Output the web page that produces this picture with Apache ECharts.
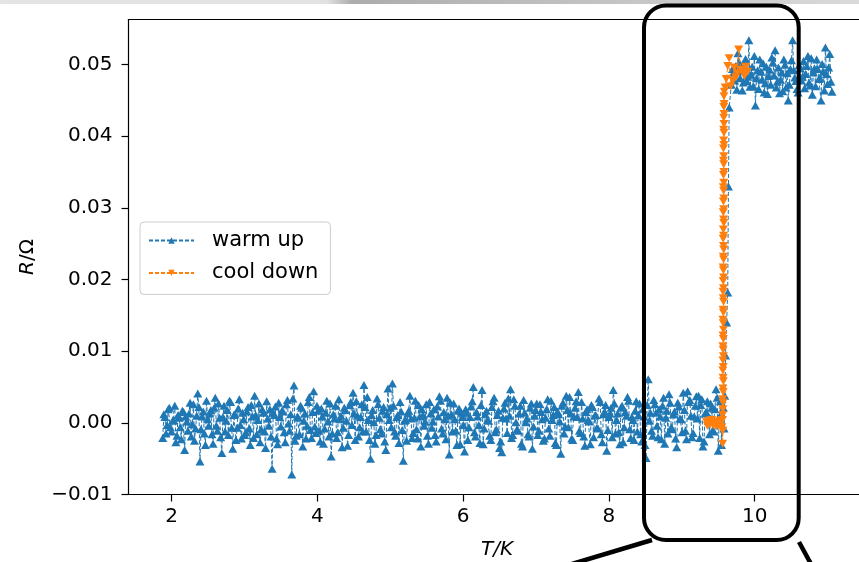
<!DOCTYPE html>
<html><head><meta charset="utf-8">
<script src="https://cdn.jsdelivr.net/npm/echarts@6/dist/echarts.min.js"></script>
<style>html,body{margin:0;padding:0;background:#fff}#c{width:859px;height:562px}</style>
</head><body><div id="c"></div>
<script>
// ---- warm up: superconducting (low) state, T in K, R in Ohm (sweep points) ----
const warmLowT = [
 1.88,1.91,1.94,1.97,2.00,2.03,2.06,2.09,2.12,2.15,2.18,2.21,2.24,2.27,2.30,2.33,2.36,2.39,2.42,2.45,2.48,2.51,2.54,2.57,2.60,2.63,2.66,2.69,2.72,2.75,2.78,2.81,2.84,2.87,2.90,2.93,2.96,2.99,
 3.02,3.05,3.08,3.11,3.14,3.17,3.20,3.23,3.26,3.29,3.32,3.35,3.38,3.41,3.44,3.47,3.50,3.53,3.56,3.59,3.62,3.65,3.68,3.71,3.74,3.77,3.80,3.83,3.86,3.89,3.92,3.95,3.98,
 4.01,4.04,4.07,4.10,4.13,4.16,4.19,4.22,4.25,4.28,4.31,4.34,4.37,4.40,4.43,4.46,4.49,4.52,4.55,4.58,4.61,4.64,4.67,4.70,4.73,4.76,4.79,4.82,4.85,4.88,4.91,4.94,4.97,
 5.00,5.03,5.06,5.09,5.12,5.15,5.18,5.21,5.24,5.27,5.30,5.33,5.36,5.39,5.42,5.45,5.48,5.51,5.54,5.57,5.60,5.63,5.66,5.69,5.72,5.75,5.78,5.81,5.84,5.87,5.90,5.93,5.96,5.99,
 6.02,6.05,6.08,6.11,6.14,6.17,6.20,6.23,6.26,6.29,6.32,6.35,6.38,6.41,6.44,6.47,6.50,6.53,6.56,6.59,6.62,6.65,6.68,6.71,6.74,6.77,6.80,6.83,6.86,6.89,6.92,6.95,6.98,
 7.01,7.04,7.07,7.10,7.13,7.16,7.19,7.22,7.25,7.28,7.31,7.34,7.37,7.40,7.43,7.46,7.49,7.52,7.55,7.58,7.61,7.64,7.67,7.70,7.73,7.76,7.79,7.82,7.85,7.88,7.91,7.94,7.97,
 8.00,8.03,8.06,8.09,8.12,8.15,8.18,8.21,8.24,8.27,8.30,8.33,8.36,8.39,8.42,8.45,8.48,8.51,8.54,8.57,8.60,8.63,8.66,8.69,8.72,8.75,8.78,8.81,8.84,8.87,8.90,8.93,8.96,8.99,
 9.02,9.05,9.08,9.11,9.14,9.17,9.20,9.23,9.26,9.29,9.32,9.35,9.38,9.41,9.44,9.47,9.50,9.53,9.55
];
const warmLowR = [
 -0.0021,0.0008,-0.0003,0.0021,-0.0012,0.0004,-0.0027,0.0011,-0.0006,0.0017,-0.0038,0.0002,0.0013,-0.0019,0.0026,-0.0008,0.0041,-0.0054,0.0009,-0.0015,0.0031,-0.0004,0.0018,-0.0029,0.0035,-0.0011,0.0007,-0.0042,0.0024,0.0003,-0.0017,0.0029,-0.0036,0.0012,-0.0007,0.0033,-0.0022,0.0005,
 -0.0013,0.0022,-0.0031,0.0009,0.0038,-0.0016,0.0027,-0.0009,0.0014,-0.0035,0.0006,0.0019,-0.0064,0.0011,-0.0022,0.0028,-0.0005,0.0016,-0.0027,0.0032,-0.0011,-0.0072,0.0052,-0.0018,0.0007,0.0024,-0.0033,0.0013,-0.0004,0.0036,-0.0021,0.0044,-0.0014,
 0.0017,-0.0026,0.0009,-0.0008,0.0031,-0.0019,-0.0047,0.0012,0.0024,-0.0013,0.0005,-0.0034,0.0021,0.0003,-0.0017,0.0029,0.0042,-0.0024,0.0010,-0.0006,0.0026,0.0053,-0.0012,0.0004,-0.0050,0.0018,-0.0029,0.0034,0.0007,-0.0015,0.0022,-0.0038,0.0048,
 0.0021,0.0055,-0.0012,0.0008,-0.0028,0.0016,-0.0053,0.0004,0.0013,0.0038,-0.0021,0.0007,-0.0009,0.0025,-0.0033,0.0011,0.0002,-0.0018,0.0029,-0.0007,0.0019,-0.0026,0.0009,0.0031,-0.0015,0.0005,0.0035,-0.0044,0.0012,0.0027,-0.0011,0.0017,-0.0030,0.0008,
 -0.0040,0.0014,-0.0006,0.0023,0.0050,-0.0019,0.0009,-0.0028,0.0046,-0.0008,0.0017,0.0003,-0.0024,0.0030,-0.0013,0.0011,-0.0035,-0.0041,0.0020,0.0006,0.0034,0.0047,-0.0017,0.0024,-0.0009,0.0013,-0.0029,0.0032,0.0001,-0.0016,0.0021,-0.0036,0.0010,
 0.0027,-0.0011,0.0015,-0.0025,0.0007,0.0033,-0.0018,0.0004,0.0022,-0.0031,0.0012,-0.0043,0.0028,-0.0005,0.0018,0.0036,-0.0022,0.0009,0.0030,0.0043,-0.0014,0.0006,-0.0032,0.0019,0.0002,0.0025,-0.0020,0.0011,-0.0008,0.0029,-0.0027,0.0016,-0.0039,
 0.0008,0.0021,0.0046,-0.0015,0.0013,-0.0030,0.0024,-0.0006,0.0010,0.0031,-0.0021,0.0004,0.0017,-0.0012,0.0027,-0.0026,0.0009,-0.0049,0.0061,0.0014,-0.0018,0.0026,-0.0004,0.0019,-0.0023,0.0035,0.0007,-0.0015,0.0028,-0.0009,0.0016,-0.0034,0.0023,0.0005,
 0.0042,-0.0011,0.0044,0.0032,-0.0020,0.0009,0.0037,0.0038,0.0025,-0.0033,0.0013,0.0030,-0.0016,0.0021,-0.0012,0.0047,-0.0039,0.0030,0.0033
];
// interleaved readings of the low state
const warmLowT2 = [
 1.895,1.925,1.955,1.985,2.015,2.045,2.075,2.105,2.135,2.165,2.195,2.225,2.255,2.285,2.315,2.345,2.375,2.405,2.435,2.465,2.495,2.525,2.555,2.585,2.615,2.645,2.675,2.705,2.735,2.765,2.795,2.825,2.855,2.885,2.915,2.945,2.975,3.005,
 3.035,3.065,3.095,3.125,3.155,3.185,3.215,3.245,3.275,3.305,3.335,3.365,3.395,3.425,3.455,3.485,3.515,3.545,3.575,3.605,3.635,3.665,3.695,3.725,3.755,3.785,3.815,3.845,3.875,3.905,3.935,3.965,3.995,
 4.025,4.055,4.085,4.115,4.145,4.175,4.205,4.235,4.265,4.295,4.325,4.355,4.385,4.415,4.445,4.475,4.505,4.535,4.565,4.595,4.625,4.655,4.685,4.715,4.745,4.775,4.805,4.835,4.865,4.895,4.925,4.955,4.985,
 5.015,5.045,5.075,5.105,5.135,5.165,5.195,5.225,5.255,5.285,5.315,5.345,5.375,5.405,5.435,5.465,5.495,5.525,5.555,5.585,5.615,5.645,5.675,5.705,5.735,5.765,5.795,5.825,5.855,5.885,5.915,5.945,5.975,6.005,
 6.035,6.065,6.095,6.125,6.155,6.185,6.215,6.245,6.275,6.305,6.335,6.365,6.395,6.425,6.455,6.485,6.515,6.545,6.575,6.605,6.635,6.665,6.695,6.725,6.755,6.785,6.815,6.845,6.875,6.905,6.935,6.965,6.995,
 7.025,7.055,7.085,7.115,7.145,7.175,7.205,7.235,7.265,7.295,7.325,7.355,7.385,7.415,7.445,7.475,7.505,7.535,7.565,7.595,7.625,7.655,7.685,7.715,7.745,7.775,7.805,7.835,7.865,7.895,7.925,7.955,7.985,
 8.015,8.045,8.075,8.105,8.135,8.165,8.195,8.225,8.255,8.285,8.315,8.345,8.375,8.405,8.435,8.465,8.495,8.525,8.555,8.585,8.615,8.645,8.675,8.705,8.735,8.765,8.795,8.825,8.855,8.885,8.915,8.945,8.975,9.005,
 9.035,9.065,9.095,9.125,9.155,9.185,9.215,9.245,9.275,9.305,9.335,9.365,9.395,9.425,9.455,9.485,9.515,9.545
];
const warmLowR2 = [
 0.0012,-0.0015,0.0019,-0.0006,0.0003,0.0024,-0.0018,0.0007,-0.0023,0.0015,0.0009,-0.0011,0.0028,-0.0002,-0.0025,0.0010,0.0022,-0.0009,0.0016,-0.0031,0.0005,0.0013,-0.0016,0.0021,-0.0004,0.0027,-0.0020,0.0008,-0.0012,0.0018,0.0031,-0.0007,0.0011,-0.0024,0.0020,-0.0003,0.0014,-0.0017,
 0.0016,-0.0008,0.0025,-0.0021,0.0011,0.0004,-0.0027,0.0019,-0.0012,0.0030,-0.0004,-0.0019,0.0014,0.0023,-0.0030,0.0008,0.0017,-0.0013,0.0026,-0.0001,0.0012,0.0034,-0.0025,0.0009,-0.0016,0.0021,0.0003,-0.0022,0.0029,-0.0010,0.0015,-0.0005,0.0024,
 -0.0011,0.0020,-0.0029,0.0014,0.0002,0.0027,-0.0015,0.0006,-0.0021,0.0033,0.0010,-0.0007,0.0018,-0.0032,0.0025,-0.0003,0.0013,0.0030,-0.0019,0.0008,-0.0012,0.0022,0.0036,-0.0024,0.0011,0.0001,-0.0017,0.0026,-0.0009,0.0017,-0.0026,0.0012,0.0004,
 -0.0006,0.0024,-0.0018,0.0011,0.0029,-0.0010,0.0003,-0.0025,0.0017,0.0006,-0.0014,0.0031,-0.0022,0.0009,0.0019,-0.0004,0.0026,-0.0029,0.0013,0.0002,-0.0017,0.0023,0.0037,-0.0008,0.0015,-0.0023,0.0010,0.0028,-0.0012,0.0005,-0.0031,0.0020,0.0014,-0.0003,
 0.0019,-0.0024,0.0008,0.0030,-0.0013,0.0015,-0.0003,0.0025,-0.0030,0.0012,0.0004,-0.0018,0.0022,0.0035,-0.0009,0.0017,-0.0026,0.0007,0.0028,-0.0014,0.0010,-0.0021,0.0033,0.0001,-0.0011,0.0024,-0.0033,0.0014,0.0006,-0.0019,0.0027,-0.0005,0.0018,
 -0.0017,0.0026,0.0005,-0.0022,0.0019,-0.0008,0.0031,0.0011,-0.0028,0.0016,0.0002,0.0024,-0.0015,0.0038,-0.0006,0.0013,-0.0024,0.0021,0.0008,-0.0011,0.0029,-0.0019,0.0015,0.0004,-0.0030,0.0022,0.0010,-0.0007,0.0034,-0.0016,0.0012,0.0025,-0.0010,
 0.0013,-0.0020,0.0027,0.0004,-0.0013,0.0021,-0.0027,0.0015,0.0036,-0.0009,0.0008,-0.0024,0.0030,0.0011,-0.0016,0.0019,-0.0031,0.0025,0.0003,-0.0011,0.0032,0.0014,-0.0020,0.0009,0.0024,-0.0029,0.0017,0.0040,-0.0006,0.0012,-0.0022,0.0028,0.0006,-0.0013,
 0.0018,-0.0023,0.0029,0.0010,-0.0014,0.0024,0.0006,-0.0021,0.0033,-0.0026,0.0015,0.0003,0.0027,-0.0010,0.0019,0.0035,0.0008,-0.0031
];
// ---- warm up: transition ----
const warmMidT = [9.57,9.58,9.59,9.60,9.615,9.63,9.64,9.65];
const warmMidR = [0.0021,-0.0008,0.0038,0.0094,0.0140,0.0182,0.0330,0.0440];
// ---- warm up: normal (high) state ----
const warmHighT = [
 9.68,9.71,9.74,9.77,9.80,9.83,9.86,9.89,9.92,9.95,9.98,10.01,10.04,10.07,10.10,10.13,10.16,10.19,10.22,10.25,10.28,10.31,10.34,10.37,
 10.40,10.43,10.46,10.49,10.52,10.55,10.58,10.61,10.64,10.67,10.70,10.73,10.76,10.79,10.82,10.85,10.88,10.91,10.94,10.97,11.00,11.03,11.06
];
const warmHighR = [
 0.0472,0.0489,0.0498,0.0516,0.0481,0.0464,0.0495,0.0477,0.0534,0.0486,0.0470,0.0443,0.0492,0.0507,0.0479,0.0461,0.0497,0.0484,0.0472,0.0503,0.0520,0.0476,0.0460,0.0489,
 0.0507,0.0468,0.0450,0.0494,0.0534,0.0482,0.0466,0.0499,0.0478,0.0505,0.0487,0.0512,0.0471,0.0458,0.0495,0.0507,0.0480,0.0450,0.0490,0.0524,0.0473,0.0515,0.0462
];
const warmHighT2 = [
 9.695,9.725,9.755,9.785,9.815,9.845,9.875,9.905,9.935,9.965,9.995,10.025,10.055,10.085,10.115,10.145,10.175,10.205,10.235,10.265,10.295,10.325,10.355,
 10.385,10.415,10.445,10.475,10.505,10.535,10.565,10.595,10.625,10.655,10.685,10.715,10.745,10.775,10.805,10.835,10.865,10.895,10.925,10.955,10.985,11.015,11.045
];
const warmHighR2 = [
 0.0494,0.0478,0.0465,0.0503,0.0491,0.0475,0.0508,0.0483,0.0469,0.0497,0.0512,0.0481,0.0466,0.0490,0.0502,0.0474,0.0459,0.0493,0.0510,0.0485,0.0468,0.0496,0.0479,
 0.0463,0.0500,0.0488,0.0472,0.0506,0.0492,0.0477,0.0461,0.0495,0.0483,0.0467,0.0498,0.0475,0.0509,0.0489,0.0470,0.0494,0.0481,0.0501,0.0464,0.0487,0.0496,0.0476
];
// ---- cool down (in measurement order: high T -> low T) ----
const coolHighT = [9.90,9.88,9.86,9.84,9.81,9.78,9.76,9.74,9.72,9.70,9.67,9.65,9.63,9.61,9.595];
const coolHighR = [0.0490,0.0497,0.0484,0.0488,0.0493,0.0521,0.0488,0.0482,0.0496,0.0478,0.0470,0.0509,0.0498,0.0480,0.0468];
const coolDropT = [
 9.583,9.578,9.581,9.576,9.580,9.575,9.579,9.574,9.578,9.573,
 9.577,9.572,9.576,9.571,9.575,9.578,9.572,9.576,9.570,9.574,
 9.577,9.571,9.575,9.569,9.573,9.576,9.570,9.574,9.568,9.572,
 9.575,9.569,9.573,9.567,9.571,9.574,9.568,9.572,9.566,9.570,
 9.573,9.567,9.571,9.565,9.569,9.572,9.566,9.570,9.564,9.568,
 9.571,9.565,9.569,9.563,9.567,9.570,9.564,9.568,9.562,9.566,
 9.564,9.561
];
const coolDropR = [
 0.0462,0.0456,0.0445,0.0441,0.0431,0.0426,0.0417,0.0409,0.0405,0.0394,
 0.0388,0.0383,0.0372,0.0366,0.0361,0.0350,0.0346,0.0335,0.0329,0.0324,
 0.0313,0.0309,0.0298,0.0294,0.0284,0.0279,0.0270,0.0261,0.0257,0.0247,
 0.0242,0.0232,0.0228,0.0217,0.0213,0.0203,0.0198,0.0188,0.0183,0.0174,
 0.0169,0.0158,0.0154,0.0144,0.0139,0.0130,0.0122,0.0117,0.0107,0.0102,
 0.0093,0.0087,0.0078,0.0073,0.0063,0.0058,0.0048,0.0043,0.0033,0.0028,
 0.0019,0.0011
];
const coolLowT = [9.560,9.562,9.558,9.55,9.53,9.51,9.49,9.47,9.45,9.43,9.41,9.39,9.37,9.35,9.34];
const coolLowR = [-0.0029,-0.0011,0.0004,-0.0006,0.0003,-0.0004,0.0002,-0.0005,0.0001,-0.0003,0.0004,-0.0002,0.0003,-0.0004,0.0001];

const xTicks = [2,4,6,8,10];
const yTicks = [-0.01,0.00,0.01,0.02,0.03,0.04,0.05];
const seriesNames = ['warm up','cool down'];

function pairs(T, R){ const n=Math.min(T.length,R.length); const out=[]; for(let i=0;i<n;i++) out.push([T[i],R[i]]); return out; }
const byT = (a,b)=>a[0]-b[0];
const warmData = pairs(warmLowT,warmLowR).concat(pairs(warmLowT2,warmLowR2)).sort(byT)
  .concat(pairs(warmMidT,warmMidR))
  .concat(pairs(warmHighT,warmHighR).concat(pairs(warmHighT2,warmHighR2)).sort(byT));
const coolData = pairs(coolHighT,coolHighR).concat(pairs(coolDropT,coolDropR), pairs(coolLowT,coolLowR));

const FONT = 'DejaVu Sans';
const chart = echarts.init(document.getElementById('c'), null, {renderer:'canvas'});
const blue = '#1f77b4', orange = '#ff7f0e';
const X_MIN = 1.41, X_MAX = 11.52;
chart.setOption({
  animation:false,
  backgroundColor:'#ffffff',
  grid:{left:128.5, top:19.5, width:737, height:475, outerBoundsMode:'none', containLabel:false, show:false},
  xAxis:[{
    type:'value', min:X_MIN, max:X_MAX, position:'bottom',
    name:'T/K', nameLocation:'middle', nameGap:45,
    nameTextStyle:{fontFamily:FONT, fontSize:20, fontStyle:'italic', color:'#000'},
    axisLine:{show:true, onZero:false, lineStyle:{color:'#000', width:1.2}},
    axisTick:{show:true, length:7, lineStyle:{color:'#000', width:1.2}, customValues:xTicks},
    axisLabel:{customValues:xTicks, fontFamily:FONT, fontSize:20, color:'#000', margin:12, formatter:v=>String(v)},
    splitLine:{show:false}
  },{
    type:'value', min:X_MIN, max:X_MAX, position:'top',
    axisLine:{show:true, onZero:false, lineStyle:{color:'#000', width:1.2}},
    axisTick:{show:false}, axisLabel:{show:false}, splitLine:{show:false}
  }],
  yAxis:{
    type:'value', min:-0.01, max:0.0563,
    name:'{i|R}/Ω', nameLocation:'middle', nameGap:91, nameRotate:90,
    nameTextStyle:{fontFamily:FONT, fontSize:20, color:'#000', rich:{i:{fontFamily:FONT, fontSize:20, fontStyle:'italic', color:'#000'}}},
    axisLine:{show:true, onZero:false, lineStyle:{color:'#000', width:1.2}},
    axisTick:{show:true, length:7, lineStyle:{color:'#000', width:1.2}, customValues:yTicks},
    axisLabel:{customValues:yTicks, fontFamily:FONT, fontSize:20, color:'#000', margin:16,
      formatter:v=> v < -1e-9 ? '\u2212'+Math.abs(v).toFixed(2) : Math.abs(v).toFixed(2)},
    splitLine:{show:false}
  },
  legend:{
    data:seriesNames, orient:'vertical', left:140, top:222,
    padding:[8,12,11,8], itemWidth:45, itemHeight:8, itemGap:11.4,
    backgroundColor:'rgba(255,255,255,0.8)', borderColor:'#cccccc', borderWidth:1, borderRadius:4,
    textStyle:{fontFamily:FONT, fontSize:21, color:'#000', lineHeight:20, padding:[0,0,0,13]}
  },
  series:[
    {type:'line', name:seriesNames[0], data:warmData, symbol:'triangle', symbolSize:[9,8], showSymbol:true, showAllSymbol:true,
     itemStyle:{color:blue}, lineStyle:{color:blue, width:1, type:[4,2]}, emphasis:{disabled:true}, z:2},
    {type:'line', name:seriesNames[1], data:coolData, symbol:'triangle', symbolRotate:180, symbolSize:[9,8], showSymbol:true, showAllSymbol:true,
     itemStyle:{color:orange}, lineStyle:{color:orange, width:1, type:[4,2]}, emphasis:{disabled:true}, z:3}
  ],
  graphic:[
    {type:'rect', silent:true, z:100, shape:{x:0,y:0,width:859,height:4},
     style:{fill:new echarts.graphic.LinearGradient(0,0,1,0,[
       {offset:0,color:'#e4e4e4'},{offset:0.38,color:'#e2e2e2'},{offset:0.41,color:'#acacac'},
       {offset:0.62,color:'#bdbdbd'},{offset:0.9,color:'#d2d2d2'},{offset:1,color:'#dadada'}])}},
    {type:'rect', silent:true, z:100, shape:{x:644,y:5.5,width:154.7,height:534.5,r:22},
     style:{fill:null, stroke:'#000', lineWidth:4}},
    {type:'line', silent:true, z:100, shape:{x1:652,y1:540,x2:572,y2:564}, style:{stroke:'#000', lineWidth:4.5}},
    {type:'line', silent:true, z:100, shape:{x1:799,y1:542,x2:811,y2:564}, style:{stroke:'#000', lineWidth:4.5}}
  ]
});
</script>
</body></html>
